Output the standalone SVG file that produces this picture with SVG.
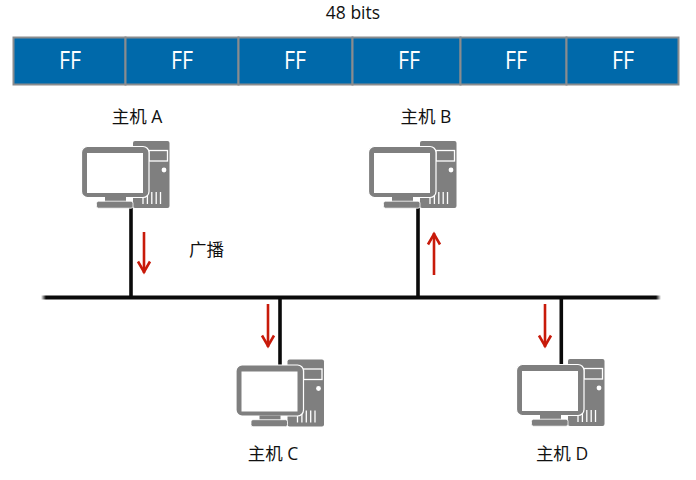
<svg xmlns="http://www.w3.org/2000/svg" width="696" height="480" viewBox="0 0 696 480">
<style>
text{font-family:"Open Sans","Noto Sans CJK SC","Noto Sans",sans-serif;font-size:17.5px;fill:#111;text-anchor:middle}
.cell{fill:#0069aa;stroke:#8a8c8e;stroke-width:2}
.ff{fill:#fff;font-size:25px}
.wire{stroke:#0a0a0a;stroke-width:3.6;fill:none}
.bus{stroke:url(#busFade);stroke-width:3.8;fill:none}
.flow{stroke:#c81a0a;stroke-width:2.6;fill:none}
.g{fill:#7f7f7f}
.w{fill:#fff}
.ws{stroke:#fff;fill:none;stroke-width:1.3}
</style>
<defs>
<linearGradient id="busFade" gradientUnits="userSpaceOnUse" x1="41" y1="0" x2="661" y2="0">
<stop offset="0" stop-color="#0a0a0a" stop-opacity="0"/>
<stop offset="0.008" stop-color="#0a0a0a"/>
<stop offset="0.992" stop-color="#0a0a0a"/>
<stop offset="1" stop-color="#0a0a0a" stop-opacity="0"/>
</linearGradient>
<marker id="head" markerUnits="userSpaceOnUse" markerWidth="16" markerHeight="16" refX="13" refY="8" orient="auto">
<path d="M1.500 2 L12 8 L1.500 14" fill="none" stroke="#c81a0a" stroke-width="2.6"/>
</marker>
<g id="pc">
<path class="g" d="M135 141H167.500Q169.500 141 169.500 143V206Q169.500 208 167.500 208H135Q133 208 133 206V143Q133 141 135 141Z"/>
<rect class="ws" x="149" y="150.500" width="18.500" height="10.500"/>
<circle class="w" cx="164" cy="170" r="2.400"/>
<path class="ws" d="M143 204V192M147.400 204V192M151.800 204V192M156.200 204V192M160.500 204V192" stroke-width="1.200"/>
<rect class="g" x="81.500" y="146.500" width="67.500" height="51" rx="6" stroke="#fff" stroke-width="1.200"/>
<rect class="w" x="87" y="153" width="56" height="40"/>
<rect class="g" x="105" y="197" width="21" height="5"/>
<rect class="g" x="96.500" y="201.200" width="36.500" height="7" rx="2" stroke="#fff" stroke-width="0.800"/>
</g>
</defs>
<text x="353" y="19">48 bits</text>
<g id="frame">
<g id="byte-1"><rect class="cell" x="13.500" y="37.500" width="112" height="47"/><text class="ff" x="70" y="69" textLength="22" lengthAdjust="spacingAndGlyphs">FF</text></g>
<g id="byte-2"><rect class="cell" x="125.500" y="37.500" width="113" height="47"/><text class="ff" x="182" y="69" textLength="22" lengthAdjust="spacingAndGlyphs">FF</text></g>
<g id="byte-3"><rect class="cell" x="238.500" y="37.500" width="114" height="47"/><text class="ff" x="295" y="69" textLength="22" lengthAdjust="spacingAndGlyphs">FF</text></g>
<g id="byte-4"><rect class="cell" x="352.500" y="37.500" width="108" height="47"/><text class="ff" x="409" y="69" textLength="22" lengthAdjust="spacingAndGlyphs">FF</text></g>
<g id="byte-5"><rect class="cell" x="460.500" y="37.500" width="106" height="47"/><text class="ff" x="516" y="69" textLength="22" lengthAdjust="spacingAndGlyphs">FF</text></g>
<g id="byte-6"><rect class="cell" x="566.500" y="37.500" width="112" height="47"/><text class="ff" x="623" y="69" textLength="22" lengthAdjust="spacingAndGlyphs">FF</text></g>
</g>
<g id="connectors">
<path class="bus" d="M41 297.500H661"/>
<path class="wire" d="M131 205V297M418 205V297M280 297V368M561.300 297V368"/>
<path class="flow" marker-end="url(#head)" d="M144 232V273"/>
<path class="flow" marker-end="url(#head)" d="M434 275V233"/>
<path class="flow" marker-end="url(#head)" d="M268 304V347"/>
<path class="flow" marker-end="url(#head)" d="M545 304V347"/>
</g>
<g id="host-a"><use href="#pc"/><text x="137" y="123">主机 A</text></g>
<g id="host-b"><use href="#pc" x="287"/><text x="426" y="123">主机 B</text></g>
<g id="host-c"><use href="#pc" x="154.500" y="218.500"/><text x="273" y="460">主机 C</text></g>
<g id="host-d"><use href="#pc" x="435" y="218"/><text x="562" y="460">主机 D</text></g>
<text x="206.500" y="256">广播</text>
</svg>
